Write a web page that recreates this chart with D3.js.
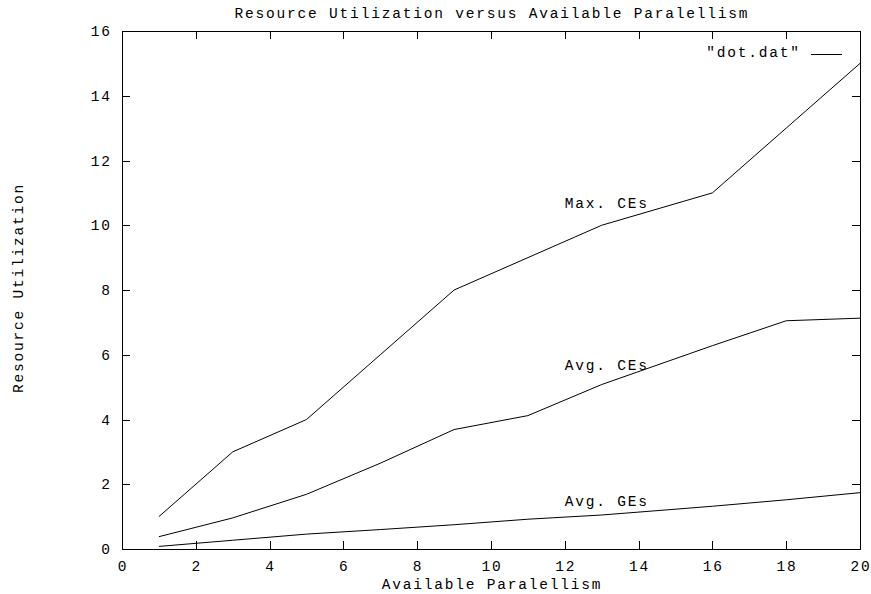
<!DOCTYPE html>
<html><head><meta charset="utf-8">
<script src="https://cdn.jsdelivr.net/npm/d3@7"></script>
<style>body{margin:0;background:#fff}svg text{font-family:"Liberation Mono","DejaVu Sans Mono",monospace;font-size:14.5px;letter-spacing:1.8px;fill:#000}</style>
</head><body><svg id="c" width="871" height="594"></svg>
<script>
const xs = [1,3,5,7,9,11,13,16,18,20];
const maxCEs = [1,3,4,6,8,9,10,11,13,15];
const avgCEs = [0.38,0.96,1.69,2.65,3.69,4.12,5.08,6.28,7.05,7.13];
const avgGEs = [0.08,0.27,0.46,0.6,0.75,0.92,1.05,1.32,1.52,1.74];
const xTicks = [0,2,4,6,8,10,12,14,16,18,20];
const yTicks = [0,2,4,6,8,10,12,14,16];
const seriesLabels = [
  {text:"Max. CEs", x:12, y:10.53},
  {text:"Avg. CEs", x:12, y:5.53},
  {text:"Avg. GEs", x:12, y:1.33}
];

const svg = d3.select("#c");
const L=122, R=860, T=31, B=549;
const x = d3.scaleLinear().domain([0,20]).range([L,R]);
const y = d3.scaleLinear().domain([0,16]).range([B,T]);
const tl = 8, ls = 0.9;

const g = svg.append("g").attr("stroke","#000").attr("stroke-width",1);
xTicks.forEach(t=>{
  const px = Math.round(x(t))+0.5;
  g.append("line").attr("x1",px).attr("x2",px).attr("y1",B).attr("y2",B-tl);
  g.append("line").attr("x1",px).attr("x2",px).attr("y1",T).attr("y2",T+tl);
});
yTicks.forEach(t=>{
  const py = Math.round(y(t))+0.5;
  g.append("line").attr("x1",L).attr("x2",L+tl).attr("y1",py).attr("y2",py);
  g.append("line").attr("x1",R).attr("x2",R-tl).attr("y1",py).attr("y2",py);
});
svg.append("rect").attr("x",L+0.5).attr("y",T+0.5).attr("width",R-L).attr("height",B-T)
  .attr("fill","none").attr("stroke","#000").attr("stroke-width",1);

xTicks.forEach(t=>{
  svg.append("text").attr("x",x(t)+ls).attr("y",571).attr("text-anchor","middle").text(t);
});
yTicks.forEach(t=>{
  svg.append("text").attr("x",110+2*ls).attr("y",y(t)+5).attr("text-anchor","end").text(t);
});

const line = d3.line().x(d=>x(d[0])).y(d=>y(d[1]));
[maxCEs,avgCEs,avgGEs].forEach(s=>{
  svg.append("path").attr("d",line(xs.map((v,i)=>[v,s[i]])))
    .attr("fill","none").attr("stroke","#000").attr("stroke-width",1);
});
seriesLabels.forEach(l=>{
  svg.append("text").attr("x",x(l.x)).attr("y",y(l.y)).text(l.text);
});

svg.append("text").attr("x",491+ls).attr("y",18).attr("text-anchor","middle").text("Resource Utilization versus Available Paralellism");
svg.append("text").attr("x",491+ls).attr("y",589).attr("text-anchor","middle").text("Available Paralellism");
svg.append("text").attr("transform",`translate(23,${287+ls}) rotate(-90)`).attr("text-anchor","middle").text("Resource Utilization");

svg.append("text").attr("x",799+2*ls).attr("y",57).attr("text-anchor","end").text('"dot.dat"');
svg.append("line").attr("x1",811).attr("x2",842).attr("y1",54.5).attr("y2",54.5).attr("stroke","#000");
</script></body></html>
